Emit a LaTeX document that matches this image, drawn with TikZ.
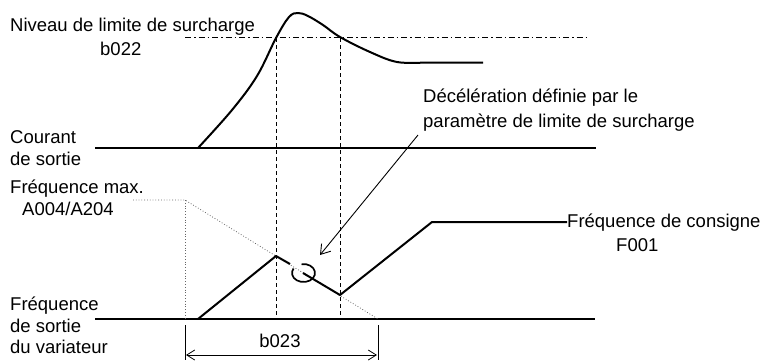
\documentclass[tikz,border=0pt]{standalone}
\usepackage{fontspec}
\setmainfont{Liberation Sans}
\usetikzlibrary{arrows.meta}

\tikzset{
  lbl/.style={anchor=base west, inner sep=0pt, font=\fontsize{18.5}{22}\selectfont},
  curve/.style={line width=2pt, line join=round},
  axis/.style={line width=1.3pt},
  guide/.style={line width=0.9pt, dash pattern=on 4pt off 3pt},
  leader/.style={line width=0.8pt, dotted, gray!80!black},
  pointer/.style={line width=0.9pt, -{Straight Barb[length=9pt, width=12pt]}}
}

\begin{document}
\begin{tikzpicture}[x=1pt, y=-1pt]
\useasboundingbox (0,0) rectangle (762,360);
% labels on the left
\node[lbl] (niveau) at (10,31) {Niveau de limite de surcharge};
\node[lbl] (b022) at (100,55) {b022};
\node[lbl] (courant) at (10,143) {Courant};
\node[lbl] (courant2) at (10,165) {de sortie};
\node[lbl] (fmax) at (10,193) {Fréquence max.};
\node[lbl] (a004) at (22,215) {A004/A204};
\node[lbl] (fsort) at (10,310) {Fréquence};
\node[lbl] (fsort2) at (10,332) {de sortie};
\node[lbl] (fsort3) at (10,353) {du variateur};
\node[lbl] (decel) at (423,102) {Décélération définie par le};
\node[lbl] (decel2) at (423,127) {paramètre de limite de surcharge};
\node[lbl] (consigne) at (567,227) {Fréquence de consigne};
\node[lbl] (f001) at (616,251) {F001};
\node[lbl, anchor=base] (b023) at (280,347) {b023};

% time axes
\draw[axis] (95,148) -- (596,148);
\draw[axis] (95,319) -- (595,319);

% overload level and limit marks
\draw[line width=0.9pt, dash pattern=on 6pt off 3pt on 1.5pt off 3pt] (185,37) -- (590,37);
\draw[guide] (276,38) -- (276,318);
\draw[guide] (340,38) -- (340,318);

% output current
\draw[curve] (95,148) -- (198,148);
\draw[curve] plot[smooth, tension=0.6] coordinates {(198,148) (232,110) (257,76) (276,38) (289,17) (298,13) (308,16) (323,25) (340,37) (370,52) (397,62) (425,62.5)} -- (483,62.5);

% maximum frequency and deceleration ramp
\coordinate (fmaxend) at (133,200);
\coordinate (corner) at (185,200);
\coordinate (zero) at (378,319);
\draw[leader] (fmaxend) -- (corner) -- (zero);
\draw[leader] (corner) -- (185,319);

% output frequency
\coordinate (start) at (198,319);
\coordinate (peak) at (276,256);
\coordinate (low) at (340,295);
\coordinate (knee) at (432,222);
\draw[curve] (start) -- (peak) -- (290,264);
\draw[curve] (303,273) -- (low) -- (knee) -- (consigne.west |- knee);
\draw[line width=1.7pt] (303.5,273) ++(260:11.5 and 9) arc[start angle=260, end angle=570, x radius=11.5, y radius=9];

% deceleration pointer
\coordinate (loop) at (320,255);
\draw[pointer] (418,135) -- (loop);

% b023 dimension
\draw[line width=0.8pt] (185,325) -- (185,360);
\draw[line width=0.8pt] (378,325) -- (378,360);
\draw[line width=0.8pt, {Straight Barb[length=8pt, width=10pt]}-{Straight Barb[length=8pt, width=10pt]}] (186,355) -- (377,355);
\end{tikzpicture}
\end{document}
